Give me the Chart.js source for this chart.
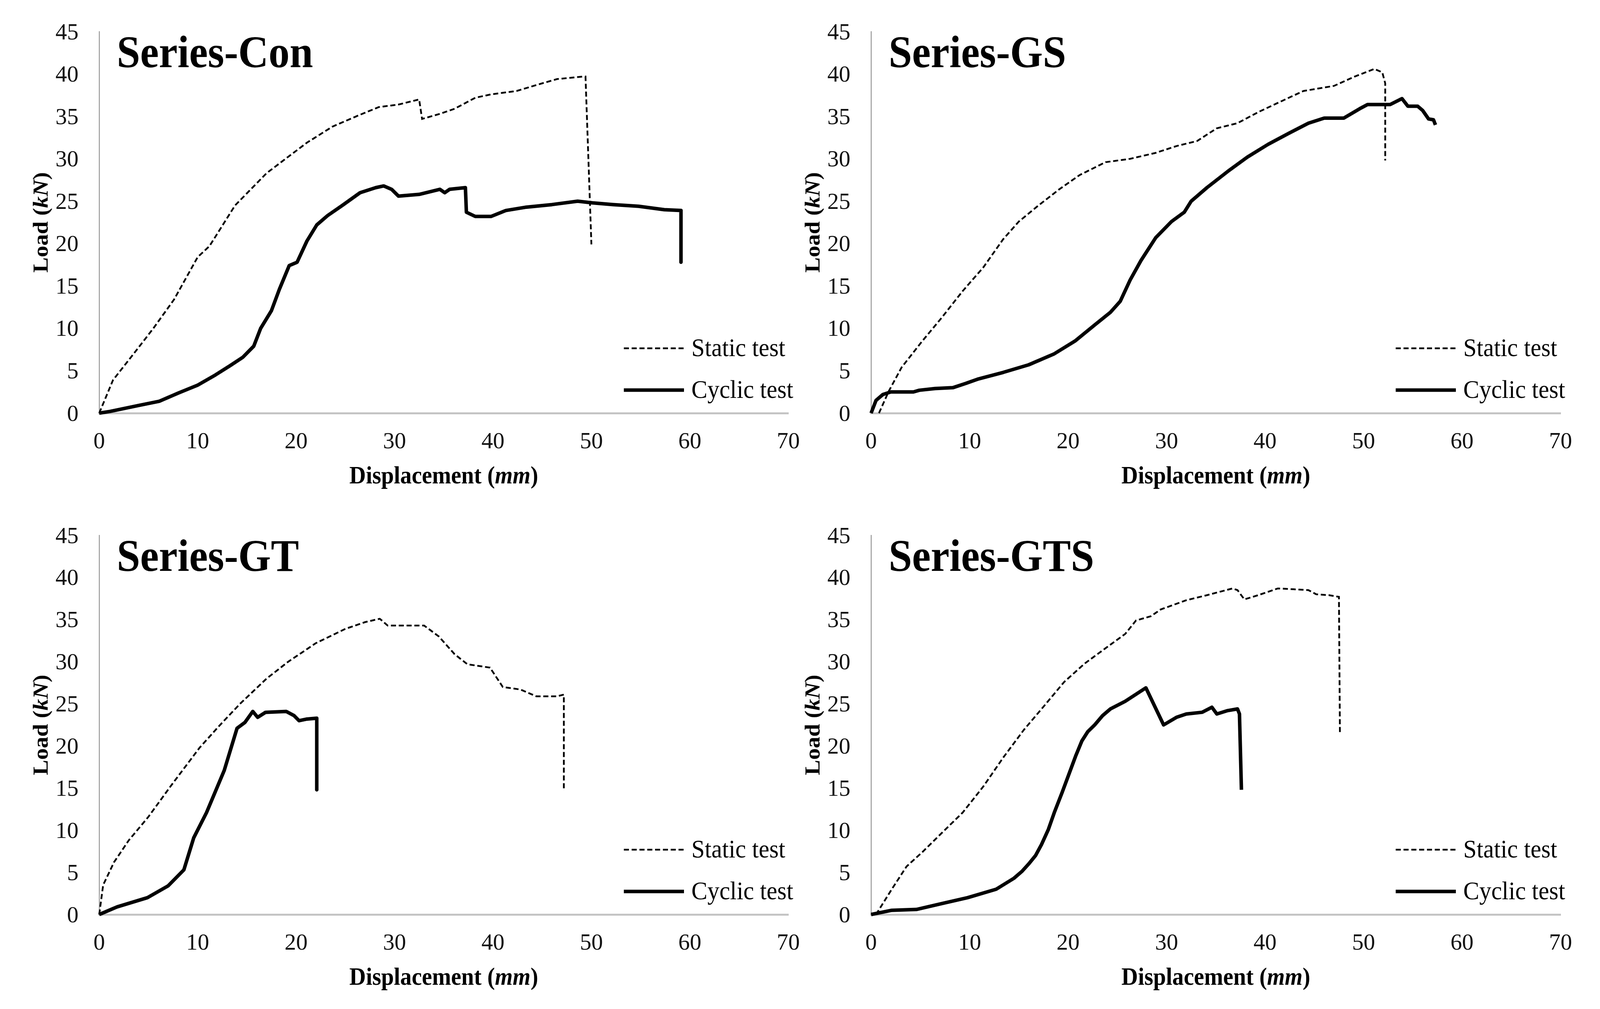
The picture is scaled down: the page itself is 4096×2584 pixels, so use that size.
<!DOCTYPE html>
<html>
<head>
<meta charset="utf-8">
<script src="https://cdn.jsdelivr.net/npm/chart.js@4/dist/chart.umd.min.js"></script>
<style>
  html, body { margin: 0; padding: 0; background: #fff; }
  #wrap { position: relative; width: 4096px; height: 2584px; overflow: hidden; }
  #wrap canvas { position: absolute; left: 0; top: 0; }
</style>
</head>
<body>
<div id="wrap">
  <canvas id="c0" width="4096" height="2584"></canvas>
  <canvas id="c1" width="4096" height="2584"></canvas>
  <canvas id="c2" width="4096" height="2584"></canvas>
  <canvas id="c3" width="4096" height="2584"></canvas>
</div>
<script>
// ---- data (displacement mm, load kN) ----
const panelTitles = ["Series-Con", "Series-GS", "Series-GT", "Series-GTS"];
const legendLabels = ["Static test", "Cyclic test"];
const xTicks = [0, 10, 20, 30, 40, 50, 60, 70];
const yTicks = [0, 5, 10, 15, 20, 25, 30, 35, 40, 45];

const conStatic = [[0,0],[1.4,3.9],[3.5,7.0],[5.5,10.0],[7.6,13.4],[10.0,18.4],[11.2,19.7],[13.8,24.5],[17.0,28.3],[19.5,30.5],[21.1,31.9],[23.7,33.8],[26.3,35.1],[28.4,36.1],[30.4,36.4],[32.5,37.0],[32.8,34.7],[34.6,35.3],[36.1,35.9],[38.2,37.2],[39.8,37.6],[42.4,38.0],[44.4,38.7],[46.5,39.4],[49.1,39.7],[49.4,39.7],[50.0,19.9]];
const conCyclic = [[0,0],[1.1,0.2],[4.0,0.9],[6.1,1.4],[8.1,2.4],[10.0,3.3],[11.8,4.5],[13.3,5.6],[14.6,6.6],[15.7,7.9],[16.4,10.0],[17.5,12.1],[18.3,14.6],[19.3,17.4],[20.1,17.8],[21.1,20.3],[22.1,22.2],[23.2,23.3],[24.7,24.5],[26.5,26.0],[28.1,26.6],[28.9,26.8],[29.7,26.4],[30.4,25.6],[32.5,25.8],[34.6,26.4],[35.1,26.0],[35.6,26.4],[37.2,26.6],[37.3,23.7],[38.2,23.2],[39.8,23.2],[41.3,23.9],[43.4,24.3],[46.0,24.6],[48.6,25.0],[50.1,24.8],[52.2,24.6],[54.8,24.4],[57.4,24.0],[59.1,23.9],[59.1,17.8]];

const gsStatic = [[0.8,0],[1.8,2.6],[3.1,5.4],[5.2,8.5],[7.2,11.3],[9.3,14.4],[11.4,17.2],[13.4,20.5],[15.0,22.6],[17.0,24.5],[19.1,26.4],[21.2,28.1],[23.8,29.6],[26.3,30.0],[28.9,30.7],[31.0,31.5],[33.1,32.1],[35.1,33.6],[37.2,34.2],[39.3,35.5],[41.3,36.6],[43.9,38.0],[47.0,38.6],[49.1,39.7],[51.1,40.6],[51.9,40.2],[52.2,38.9],[52.2,29.8]];
const gsCyclic = [[0,0],[0.5,1.5],[1.2,2.2],[2.0,2.5],[4.3,2.5],[4.9,2.7],[6.5,2.9],[8.3,3.0],[9.6,3.5],[10.8,4.0],[13.4,4.8],[16.0,5.7],[18.6,7.0],[20.7,8.5],[22.7,10.4],[24.3,11.9],[25.3,13.2],[26.3,15.7],[27.4,18.0],[28.9,20.7],[30.5,22.6],[31.8,23.7],[32.5,25.0],[34.1,26.6],[36.2,28.5],[38.2,30.2],[40.3,31.7],[42.4,33.0],[44.4,34.2],[46.0,34.8],[48.0,34.8],[49.6,35.9],[50.4,36.4],[52.7,36.4],[53.9,37.1],[54.5,36.2],[55.5,36.2],[56.0,35.7],[56.6,34.7],[57.1,34.6],[57.3,34.0]];

const gtStatic = [[0,0],[0.4,3.5],[1.5,6.2],[3.0,8.8],[5.0,11.6],[7.3,15.3],[10.2,19.8],[12.2,22.4],[14.3,25.0],[17.0,28.0],[19.2,30.0],[22.0,32.2],[25.0,33.9],[27.0,34.7],[28.5,35.1],[29.3,34.3],[33.0,34.3],[34.5,33.0],[36.1,30.9],[37.4,29.7],[39.7,29.3],[41.0,27.0],[42.8,26.7],[44.4,25.9],[46.5,25.9],[47.2,26.1],[47.2,14.8]];
const gtCyclic = [[0,0],[1.8,0.9],[4.9,2.0],[7.0,3.4],[8.6,5.3],[9.6,9.1],[10.9,12.1],[12.7,17.1],[14.0,22.1],[14.8,22.8],[15.6,24.1],[16.1,23.4],[16.9,24.0],[19.0,24.1],[19.8,23.6],[20.3,23.0],[21.1,23.2],[22.1,23.3],[22.1,14.8]];

const gtsStatic = [[0.5,0],[2.1,3.0],[3.6,5.7],[5.2,7.4],[7.2,9.7],[9.3,12.1],[11.4,15.2],[13.4,18.6],[15.5,21.9],[17.6,24.8],[19.6,27.6],[21.7,29.8],[23.8,31.6],[25.8,33.3],[26.9,34.9],[28.4,35.4],[29.4,36.2],[32.0,37.3],[34.1,37.9],[36.7,38.7],[37.2,38.5],[37.9,37.4],[39.3,37.9],[41.3,38.7],[42.9,38.6],[44.4,38.5],[45.2,38.0],[46.5,37.9],[47.5,37.7],[47.6,21.5]];
const gtsCyclic = [[0,0],[2.1,0.5],[4.6,0.6],[7.2,1.3],[9.8,2.0],[12.7,3.0],[14.5,4.3],[15.3,5.1],[16.0,6.0],[16.7,7.0],[17.3,8.3],[18.0,10.1],[18.6,12.1],[19.4,14.5],[20.1,16.7],[20.8,18.9],[21.4,20.6],[22.0,21.7],[22.7,22.5],[23.5,23.6],[24.3,24.4],[25.8,25.3],[27.9,26.9],[29.7,22.5],[31.0,23.4],[32.0,23.8],[33.6,24.0],[34.6,24.6],[35.1,23.8],[36.2,24.2],[37.2,24.4],[37.4,23.8],[37.6,14.8]];

const staticSets = [conStatic, gsStatic, gtStatic, gtsStatic];
const cyclicSets = [conCyclic, gsCyclic, gtCyclic, gtsCyclic];

// ---- layout (page px) ----
const FONT = '"Liberation Serif", "Times New Roman", serif';
const areas = [
  { l: 254, r: 2018, t: 81, b: 1058 },
  { l: 2230, r: 3995, t: 81, b: 1058 },
  { l: 254, r: 2018, t: 1371, b: 2342 },
  { l: 2230, r: 3995, t: 1371, b: 2342 },
];
const Y_BOX = 200, X_BOX = 200;

Chart.defaults.font.family = FONT;

function richWidth(ctx, parts, size) {
  let w = 0;
  parts.forEach(p => { ctx.font = p[1] + ' ' + size + 'px ' + FONT; w += ctx.measureText(p[0]).width; });
  return w;
}
function drawRich(ctx, parts, size) {
  let x = -richWidth(ctx, parts, size) / 2;
  parts.forEach(p => {
    ctx.font = p[1] + ' ' + size + 'px ' + FONT;
    ctx.fillText(p[0], x, 0);
    x += ctx.measureText(p[0]).width;
  });
}

const panelText = {
  id: 'panelText',
  afterDatasetsDraw(chart, args, opts) {
    const { ctx, chartArea: a } = chart;
    ctx.save();
    ctx.fillStyle = '#000';
    ctx.textAlign = 'left';

    // panel title
    ctx.save();
    ctx.translate(a.left + 45, a.top + 91);
    ctx.scale(0.92, 1);
    ctx.font = 'bold 117px ' + FONT;
    ctx.textBaseline = 'alphabetic';
    ctx.fillText(opts.title, 0, 0);
    ctx.restore();

    // legend
    const rows = [a.bottom - 166, a.bottom - 59];
    chart.data.datasets.forEach((ds, i) => {
      const y = rows[i];
      ctx.save();
      ctx.strokeStyle = ds.borderColor;
      ctx.lineWidth = ds.borderWidth;
      ctx.setLineDash(ds.borderDash || []);
      ctx.beginPath();
      ctx.moveTo(a.left + 1343, y);
      ctx.lineTo(a.left + 1497, y);
      ctx.stroke();
      ctx.restore();
      ctx.save();
      ctx.translate(a.left + 1516, y + 3);
      ctx.scale(0.93, 1);
      ctx.font = '66px ' + FONT;
      ctx.textBaseline = 'middle';
      ctx.fillText(ds.label, 0, 0);
      ctx.restore();
    });

    // axis titles
    ctx.textBaseline = 'alphabetic';
    ctx.save();
    ctx.translate((a.left + a.right) / 2, a.bottom + 180);
    ctx.scale(0.93, 1);
    drawRich(ctx, [['Displacement (', 'bold'], ['mm', 'italic bold'], [')', 'bold']], 63);
    ctx.restore();

    ctx.save();
    ctx.translate(a.left - 132, (a.top + a.bottom) / 2);
    ctx.rotate(-Math.PI / 2);
    ctx.scale(1, 0.92);
    drawRich(ctx, [['Load (', 'bold'], ['kN', 'italic bold'], [')', 'bold']], 59);
    ctx.restore();

    ctx.restore();
  }
};

function pts(arr) { return arr.map(p => ({ x: p[0], y: p[1] })); }

function makeChart(i) {
  const a = areas[i];
  return new Chart(document.getElementById('c' + i), {
    type: 'scatter',
    data: {
      datasets: [
        {
          label: legendLabels[0],
          data: pts(staticSets[i]),
          showLine: true,
          borderColor: '#000',
          borderWidth: 4.5,
          borderDash: [13, 7],
          pointRadius: 0,
          tension: 0,
          clip: false,
        },
        {
          label: legendLabels[1],
          data: pts(cyclicSets[i]),
          showLine: true,
          borderColor: '#000',
          borderWidth: 9,
          borderJoinStyle: 'round',
          pointRadius: 0,
          tension: 0,
          clip: false,
        },
      ],
    },
    options: {
      responsive: false,
      animation: false,
      layout: {
        padding: { left: a.l - Y_BOX, right: 4096 - a.r, top: a.t, bottom: 2584 - a.b - X_BOX },
      },
      scales: {
        x: {
          type: 'linear',
          min: 0,
          max: 70,
          afterBuildTicks: s => { s.ticks = xTicks.map(v => ({ value: v })); },
          afterFit: s => { s.height = X_BOX; s.paddingLeft = 0; s.paddingRight = 0; },
          ticks: { padding: 39, color: '#111', font: { size: 59 } },
          grid: { display: false, drawTicks: false },
          border: { display: true, color: '#c4c4c4', width: 5 },
        },
        y: {
          type: 'linear',
          min: 0,
          max: 45,
          afterBuildTicks: s => { s.ticks = yTicks.map(v => ({ value: v })); },
          afterFit: s => { s.width = Y_BOX; s.paddingTop = 0; s.paddingBottom = 0; },
          ticks: { padding: 53, labelOffset: 4, color: '#111', font: { size: 59 } },
          grid: { display: false, drawTicks: false },
          border: { display: true, color: '#9a9a9a', width: 2.5 },
        },
      },
      plugins: {
        legend: { display: false },
        tooltip: { enabled: false },
        panelText: { title: panelTitles[i] },
      },
    },
    plugins: [panelText],
  });
}

[0, 1, 2, 3].forEach(makeChart);
</script>
</body>
</html>
